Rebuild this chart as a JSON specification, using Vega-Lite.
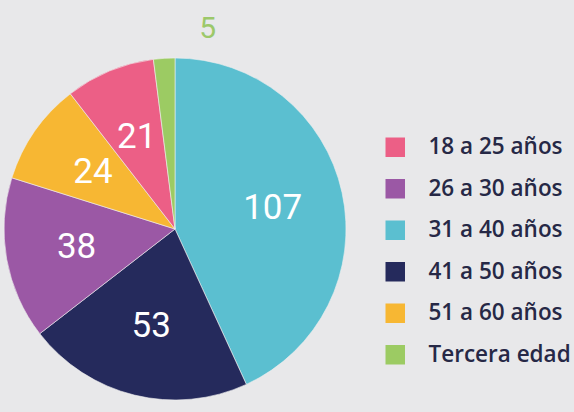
{
  "$schema": "https://vega.github.io/schema/vega-lite/v6.json",
  "width": 350,
  "height": 458,
  "padding": {"left": 0, "top": 0, "right": 224, "bottom": 0},
  "autosize": "none",
  "background": "#e8e8ea",
  "data": {
    "values": [
      {"grupo": "31 a 40 años", "valor": 107, "orden": 1},
      {"grupo": "41 a 50 años", "valor": 53, "orden": 2},
      {"grupo": "26 a 30 años", "valor": 38, "orden": 3},
      {"grupo": "51 a 60 años", "valor": 24, "orden": 4},
      {"grupo": "18 a 25 años", "valor": 21, "orden": 5},
      {"grupo": "Tercera edad", "valor": 5, "orden": 6}
    ]
  },
  "encoding": {
    "theta": {"field": "valor", "type": "quantitative", "stack": true},
    "order": {"field": "orden", "type": "quantitative"}
  },
  "layer": [
    {
      "mark": {"type": "arc", "radius": 171, "stroke": "#f0f0f0", "strokeWidth": 0.6},
      "encoding": {
        "color": {
          "field": "grupo",
          "type": "nominal",
          "scale": {
            "domain": ["18 a 25 años", "26 a 30 años", "31 a 40 años", "41 a 50 años", "51 a 60 años", "Tercera edad"],
            "range": ["#ec5f86", "#9b58a5", "#5bbfd0", "#252a5c", "#f7b733", "#9ccb63"]
          },
          "legend": {
            "title": null,
            "orient": "none",
            "legendX": 384,
            "legendY": 136,
            "symbolType": "square",
            "symbolSize": 380,
            "symbolStrokeWidth": 0,
            "symbolOpacity": 1,
            "rowPadding": 18.5,
            "labelOffset": 22,
            "labelFont": "Open Sans",
            "labelFontSize": 22.5,
            "labelFontWeight": 600,
            "labelColor": "#262846",
            "labelLimit": 300
          }
        }
      }
    },
    {
      "transform": [{"filter": "datum.valor > 5"}],
      "mark": {"type": "text", "radius": 100, "fontSize": 35, "font": "Roboto", "fontWeight": 400, "color": "white"},
      "encoding": {"text": {"field": "valor", "type": "quantitative"}}
    },
    {
      "transform": [{"filter": "datum.valor == 5"}],
      "mark": {"type": "text", "radius": 200, "dx": 20, "dy": 0, "fontSize": 30, "font": "Roboto", "fontWeight": 400, "color": "#9cc86a"},
      "encoding": {"text": {"field": "valor", "type": "quantitative"}}
    }
  ]
}
